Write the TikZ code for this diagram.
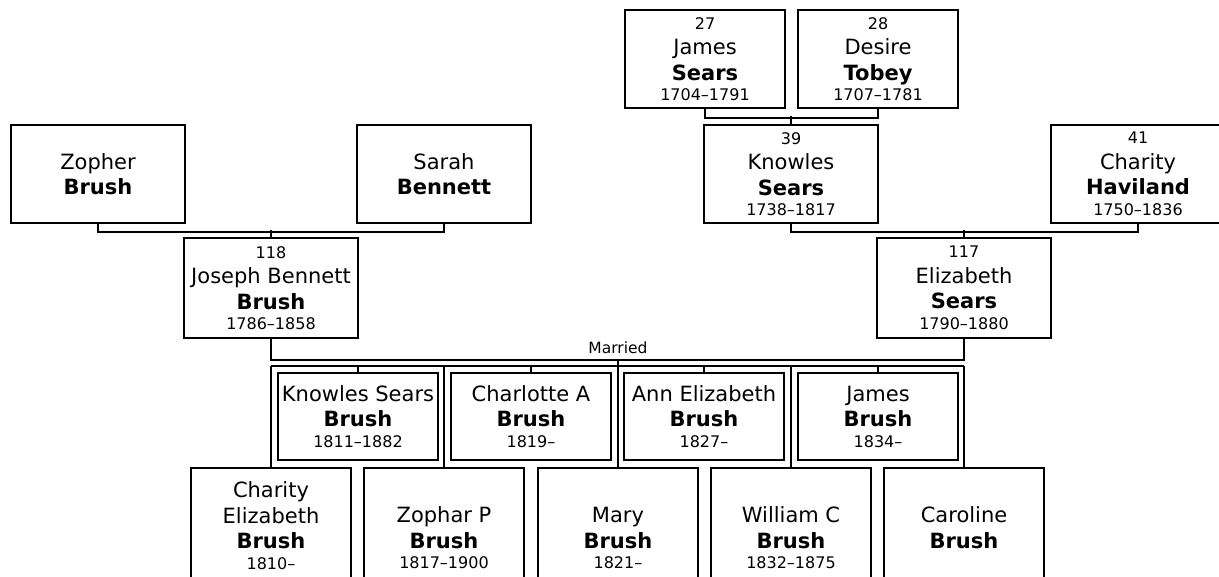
\documentclass[tikz,border=0pt]{standalone}
\usepackage{fontspec}
\setmainfont{DejaVu Sans}
\newcommand\namefont{\fontsize{21}{25.5}\selectfont}
\newcommand\smallfont{\fontsize{16}{19}\selectfont}
\newcommand\person[4]{{\smallfont #1}\\#2\\\textbf{#3}\\[-5pt]{\smallfont #4}}
\tikzset{
  box/.style={draw, line width=2pt, inner sep=0pt, align=center, font=\namefont},
  big/.style={box, minimum width=174pt, minimum height=98pt},
  kid/.style={box, minimum width=160pt, minimum height=87pt},
  low/.style={box, minimum width=160pt, anchor=north},
  wire/.style={draw, line width=2pt},
}
\begin{document}
\begin{tikzpicture}[x=1pt,y=-1pt]
\useasboundingbox (0,0) rectangle (1219,577);
\clip (0,0) rectangle (1219,577);
% great-grandparents
\node[box, minimum width=160pt, minimum height=98pt] (p27) at (705,59) {\person{27}{James}{Sears}{1704\textendash1791}};
\node[box, minimum width=160pt, minimum height=98pt] (p28) at (878,59) {\person{28}{Desire}{Tobey}{1707\textendash1781}};
% grandparents
\node[big] (zoph) at (98,174) {Zopher\\\textbf{Brush}};
\node[big] (sarah) at (444,174) {Sarah\\\textbf{Bennett}};
\node[big] (p39) at (791,174) {\person{39}{Knowles}{Sears}{1738\textendash1817}};
\node[big] (p41) at (1138,174) {\person{41}{Charity}{Haviland}{1750\textendash1836}};
% parents
\node[big, minimum height=100pt] (p118) at (271,288) {\person{118}{Joseph Bennett}{Brush}{1786\textendash1858}};
\node[big, minimum height=100pt] (p117) at (964,288) {\person{117}{Elizabeth}{Sears}{1790\textendash1880}};
% children, upper row
\node[kid] (c1) at (358,416.5) {Knowles Sears\\\textbf{Brush}\\[-5pt]{\smallfont 1811\textendash1882}};
\node[kid] (c2) at (531,416.5) {Charlotte A\\\textbf{Brush}\\[-5pt]{\smallfont 1819\textendash}};
\node[kid] (c3) at (704,416.5) {Ann Elizabeth\\\textbf{Brush}\\[-5pt]{\smallfont 1827\textendash}};
\node[kid] (c4) at (878,416.5) {James\\\textbf{Brush}\\[-5pt]{\smallfont 1834\textendash}};
% children, lower row
\node[low, minimum height=115pt] (d1) at (271,467) {Charity\\Elizabeth\\\textbf{Brush}\\[-5pt]{\smallfont 1810\textendash}};
\node[low, minimum height=140pt] (d2) at (444,467) {Zophar P\\\textbf{Brush}\\[-5pt]{\smallfont 1817\textendash1900}};
\node[low, minimum height=140pt] (d3) at (618,467) {Mary\\\textbf{Brush}\\[-5pt]{\smallfont 1821\textendash}};
\node[low, minimum height=140pt] (d4) at (791,467) {William C\\\textbf{Brush}\\[-5pt]{\smallfont 1832\textendash1875}};
\node[low, minimum height=119pt] (d5) at (964,467) {Caroline\\\textbf{Brush}};
% parent connectors
\path[wire] (p27.south) -- ++(0,9) -| (p28.south);
\path[wire] (p39.north) -- ++(0,-8);
\path[wire] (zoph.south) -- ++(0,8) -| (sarah.south);
\path[wire] (p118.north) -- ++(0,-7);
\path[wire] (p39.south) -- ++(0,8) -| (p41.south);
\path[wire] (p117.north) -- ++(0,-7);
% marriage
\path[wire] (p118.south) -- ++(0,21) -| (p117.south);
\coordinate (bar) at (0,366);
\coordinate (mid) at (618,359);
\node[font=\fontsize{15.5}{18}\selectfont, anchor=base] (married) at (618,354) {Married};
\path[wire] (mid) -- (mid |- bar);
\path[wire] (d1.north |- bar) -- (d5.north |- bar);
\foreach \c in {d1,d2,d3,d4,d5} \path[wire] (\c.north |- bar) -- (\c.north);
\foreach \c in {c1,c2,c3,c4} \path[wire] (\c.north |- bar) -- (\c.north);
\end{tikzpicture}
\end{document}
